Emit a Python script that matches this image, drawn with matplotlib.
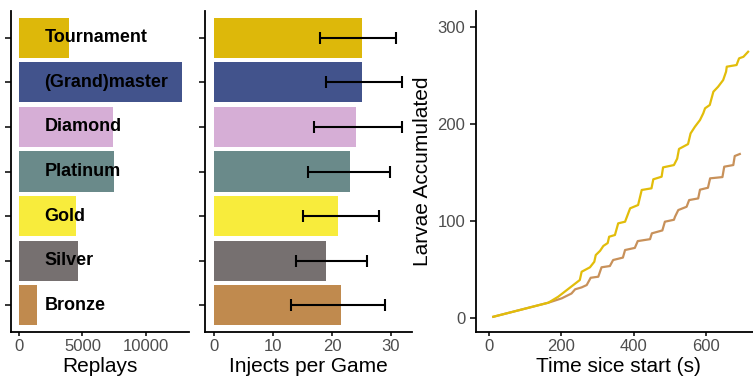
import numpy as np
import matplotlib
matplotlib.use("Agg")
import matplotlib.pyplot as plt

plt.rcParams['font.family'] = ['Liberation Sans', 'DejaVu Sans']

leagues = ['Bronze', 'Silver', 'Gold', 'Platinum', 'Diamond', '(Grand)master', 'Tournament']
colors = ['#C08A4E', '#767070', '#F8EC3C', '#6A8A8A', '#D6AED6', '#42538C', '#DDB80A']
replays = [1390, 4650, 4490, 7480, 7400, 12830, 3940]
injects = [21.5, 19.0, 21.0, 23.05, 24.1, 25.0, 25.0]
inj_lo = [13.0, 13.9, 15.0, 16.0, 16.95, 18.9, 18.0]
inj_hi = [28.9, 25.9, 27.9, 29.9, 31.9, 31.9, 30.8]

# larvae curves: tournament (yellow) and bronze (brown)
t_top = [12, 164, 191, 251, 256, 279, 291, 295, 307, 316, 328, 332, 348, 357, 376, 390,
         412, 422, 449, 454, 477, 481, 511, 520, 525, 550, 557, 569, 583, 592, 597, 610,
         615, 620, 633, 647, 655, 657, 684, 691, 703, 716]
l_top = [1, 15.5, 21.6, 38.9, 47.4, 52, 57.7, 64.6, 69, 74, 77, 83.5, 85.3, 97.3, 99, 112.8,
         116.2, 131.7, 133.4, 142.7, 145.4, 155, 157.4, 164, 174, 179, 190, 196.9, 203.8, 210.7, 215.9, 219.3,
         226.2, 233, 238.1, 245, 253.6, 258.8, 260.5, 267.4, 269, 274.2]
t_bro = [12, 164, 201, 228, 238, 256, 270, 281, 302, 311, 334, 343, 370, 376, 403, 411,
         445, 450, 479, 486, 511, 514, 523, 546, 553, 578, 583, 605, 611, 645, 650, 675, 679, 693]
l_bro = [1, 15.5, 20, 25, 29.3, 31.3, 33.7, 41.2, 42.3, 52, 53.3, 59.5, 62, 69.8, 72, 79,
         81, 87, 90, 99, 101, 104.1, 111, 114.4, 121.3, 123, 132, 134, 143.7, 145, 155.7, 157.4, 166.7, 168.8]

W, H = 753, 381
fig = plt.figure(figsize=(W / 100, H / 100), dpi=100)


def add_ax(x0, x1, y0=11, y1=332):
    return fig.add_axes([x0 / W, (H - y1) / H, (x1 - x0) / W, (y1 - y0) / H])


def style(ax):
    for s in ['top', 'right']:
        ax.spines[s].set_visible(False)
    for s in ['left', 'bottom']:
        ax.spines[s].set_linewidth(1.3)
    ax.tick_params(axis='x', length=3, width=1.1, pad=2, labelsize=12, labelcolor='#4D4D4D')
    ax.tick_params(axis='y', length=4.5, width=1.1, pad=3.4, labelsize=12, labelcolor='#4D4D4D')


ypos = np.arange(1, len(leagues) + 1)

ax1 = add_ax(11, 189)
ax1.barh(ypos, replays, height=0.9, color=colors)
for y, name in zip(ypos, leagues):
    ax1.text(2000, y, name, ha='left', va='center', fontsize=13, fontweight='bold', color='black')
ax1.set_xlim(-630, 13386)
ax1.set_ylim(0.4, 7.6)
ax1.set_xticks([0, 5000, 10000])
ax1.set_yticks(ypos)
ax1.set_yticklabels([])
ax1.set_xlabel('Replays', fontsize=15, labelpad=2)
style(ax1)

ax2 = add_ax(205, 412)
ax2.barh(ypos, injects, height=0.9, color=colors)
ax2.errorbar(injects, ypos,
             xerr=[np.array(injects) - np.array(inj_lo), np.array(inj_hi) - np.array(injects)],
             fmt='none', ecolor='black', elinewidth=1.5, capsize=4.3, capthick=1.5)
ax2.set_xlim(-1.53, 33.56)
ax2.set_ylim(0.4, 7.6)
ax2.set_xticks([0, 10, 20, 30])
ax2.set_yticks(ypos)
ax2.set_yticklabels([])
ax2.set_xlabel('Injects per Game', fontsize=15, labelpad=2)
style(ax2)

ax3 = add_ax(476.3, 760.8)
ax3.plot(t_bro, l_bro, color='#C8915A', lw=1.6)
ax3.plot(t_top, l_top, color='#E2BD0A', lw=1.6)
ax3.set_xlim(-35, 751)
ax3.set_ylim(-14.7, 316.2)
ax3.set_xticks([0, 200, 400, 600])
ax3.set_yticks([0, 100, 200, 300])
ax3.set_xlabel('Time sice start (s)', fontsize=15, labelpad=2)
ax3.set_ylabel('Larvae Accumulated', fontsize=15, labelpad=4)
style(ax3)

fig.savefig('out.png', dpi=100)
